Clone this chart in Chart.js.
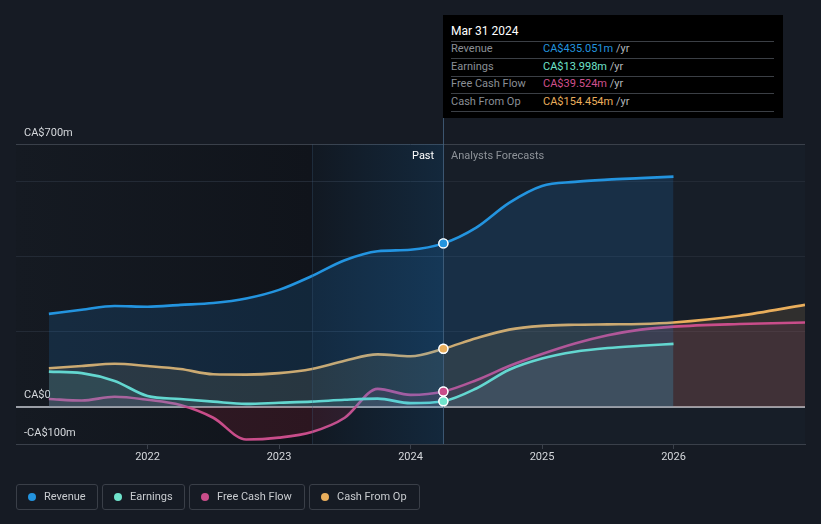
<!DOCTYPE html>
<html>
<head>
<meta charset="utf-8">
<script src="https://cdn.jsdelivr.net/npm/chart.js@4/dist/chart.umd.min.js"></script>
<style>
html,body{margin:0;padding:0;background:#161b24;width:821px;height:524px;overflow:hidden;font-family:Roboto,"Noto Sans",sans-serif;}
#wrap{position:relative;width:821px;height:524px;}
#c{position:absolute;left:0;top:0;}
.abs{position:absolute;white-space:nowrap;}
#tip{position:absolute;left:443px;top:15px;width:340px;height:103px;background:#000;}
.tl{position:absolute;left:8px;width:323px;height:0;border-top:1px solid #3b3f45;}
.tr{position:absolute;left:8px;font-size:11px;line-height:14px;color:#8a8f96;}
.tv{position:absolute;left:100px;font-size:11px;line-height:14px;color:#b3b7bc;}
.lg{position:absolute;top:484px;height:26px;border:1px solid #3a3f48;border-radius:3px;box-sizing:border-box;font-size:11px;color:#c9ccd0;line-height:24px;}
.lg i{position:absolute;left:11px;top:8px;width:8px;height:8px;border-radius:50%;}
.lg span{position:absolute;left:27px;top:0;}
</style>
</head>
<body>
<div id="wrap">
<canvas id="c" width="821" height="524"></canvas>
<div class="abs" style="left:412px;top:149px;font-size:11px;line-height:14px;color:#ffffff;">Past</div>
<div class="abs" style="left:451px;top:149px;font-size:11px;line-height:14px;color:#8e9399;">Analysts Forecasts</div>
<div id="tip">
  <div class="abs" style="left:8px;top:9px;font-size:12px;line-height:14px;color:#ffffff;">Mar 31 2024</div>
  <div class="tl" style="top:26px"></div>
  <div class="tr" style="top:27px">Revenue</div><div class="tv" style="top:27px"><span style="color:#2394df">CA$435.051m</span> /yr</div>
  <div class="tl" style="top:43px"></div>
  <div class="tr" style="top:45px">Earnings</div><div class="tv" style="top:45px"><span style="color:#6fe3cb">CA$13.998m</span> /yr</div>
  <div class="tl" style="top:61px"></div>
  <div class="tr" style="top:62px">Free Cash Flow</div><div class="tv" style="top:62px"><span style="color:#d0508e">CA$39.524m</span> /yr</div>
  <div class="tl" style="top:78px"></div>
  <div class="tr" style="top:80px">Cash From Op</div><div class="tv" style="top:80px"><span style="color:#e9ae5c">CA$154.454m</span> /yr</div>
  <div class="tl" style="top:96px"></div>
</div>
<div class="lg" style="left:16px;width:82px;"><i style="background:#2394df"></i><span>Revenue</span></div>
<div class="lg" style="left:102px;width:83px;"><i style="background:#6fe3cb"></i><span>Earnings</span></div>
<div class="lg" style="left:189px;width:116px;"><i style="background:#c94d8a"></i><span>Free Cash Flow</span></div>
<div class="lg" style="left:309px;width:111px;"><i style="background:#e9ae5c"></i><span>Cash From Op</span></div>
</div>
<script>
// ---- data (values in CA$ millions, x in decimal years) ----
const periods = [2021.25, 2021.5, 2021.75, 2022, 2022.25, 2022.5, 2022.75, 2023, 2023.25, 2023.5, 2023.75, 2024, 2024.25, 2024.5, 2024.75, 2025, 2025.25, 2025.5, 2025.75, 2026];
const periodsExt = [2021.25, 2021.5, 2021.75, 2022, 2022.25, 2022.5, 2022.75, 2023, 2023.25, 2023.5, 2023.75, 2024, 2024.25, 2024.5, 2024.75, 2025, 2025.25, 2025.5, 2025.75, 2026, 2026.5, 2027];
const revenue = [247, 258, 268, 266, 271, 276, 288, 311, 348, 390, 414, 418, 435, 477, 543, 588, 599, 605, 609, 613];
const earnings = [93, 89, 68, 28, 20, 13, 7, 10, 13, 18, 21, 9, 14, 48, 98, 128, 146, 156, 162, 167];
const freeCashFlow = [20, 16, 26, 18, 4, -30, -88, -83, -68, -30, 47, 31, 40, 70, 108, 140, 168, 190, 205, 213, 220, 224];
const cashFromOp = [102, 108, 114, 108, 100, 86, 85, 89, 100, 122, 139, 134, 154, 182, 205, 215, 218, 219, 220, 224, 242, 271];
const xTicks = [2022, 2023, 2024, 2025, 2026];
const yTicks = [-100, 0, 200, 400, 600, 700];
const yTickLabels = {"-100": "-CA$100m", "0": "CA$0", "700": "CA$700m"};
const nowX = 2024.25;
const bandStartX = 2023.25;

const toPts = (xs, ys) => ys.map((y, i) => ({x: xs[i], y}));

function ds(label, xs, ys, color, above, below) {
  return {
    label, data: toPts(xs, ys),
    borderColor: color, borderWidth: 2.6,
    fill: {target: 'origin', above, below},
    cubicInterpolationMode: 'monotone',
    pointRadius: c => (c.raw && c.raw.x === nowX) ? 4.5 : 0,
    pointHoverRadius: 0,
    pointBackgroundColor: color, pointBorderColor: '#ffffff', pointBorderWidth: 1.3
  };
}

const bgPlugin = {
  id: 'bg',
  beforeDraw(chart) {
    const {ctx, chartArea: a, scales: {x}} = chart;
    const xb = x.getPixelForValue(bandStartX), xn = x.getPixelForValue(nowX);
    ctx.save();
    let g = ctx.createLinearGradient(a.left, 0, xb, 0);
    g.addColorStop(0, '#151a22'); g.addColorStop(1, '#10141b');
    ctx.fillStyle = g; ctx.fillRect(a.left, a.top, xb - a.left, a.bottom - a.top);
    ctx.fillStyle = '#11161e'; ctx.fillRect(xb, a.top, xn - xb, a.bottom - a.top);
    ctx.fillStyle = '#171e28'; ctx.fillRect(xn, a.top, a.right - xn, a.bottom - a.top);
    ctx.restore();
  },
  afterDatasetsDraw(chart) {
    const {ctx, chartArea: a, scales: {x}} = chart;
    const xb = x.getPixelForValue(bandStartX), xn = x.getPixelForValue(nowX);
    ctx.save();
    let g = ctx.createLinearGradient(xb, 0, xn, 0);
    g.addColorStop(0, 'rgba(33,150,243,0.02)'); g.addColorStop(1, 'rgba(33,150,243,0.14)');
    ctx.fillStyle = g; ctx.fillRect(xb, a.top, xn - xb, a.bottom - a.top);
    ctx.strokeStyle = 'rgba(60,90,120,0.3)'; ctx.lineWidth = 1;
    ctx.beginPath(); ctx.moveTo(Math.round(xb) + 0.5, a.top); ctx.lineTo(Math.round(xb) + 0.5, a.bottom); ctx.stroke();
    ctx.strokeStyle = 'rgba(70,100,130,0.8)';
    ctx.beginPath(); ctx.moveTo(Math.round(xn) + 0.5, 15); ctx.lineTo(Math.round(xn) + 0.5, a.bottom); ctx.stroke();
    // redraw the "now" markers on top
    chart.data.datasets.forEach((d, di) => {
      const meta = chart.getDatasetMeta(di);
      meta.data.forEach((el, i) => { if (d.data[i].x === nowX) el.draw(ctx, a); });
    });
    ctx.restore();
  }
};

new Chart(document.getElementById('c'), {
  type: 'line',
  data: {
    datasets: [
      ds('Revenue', periods, revenue, '#2394df', 'rgba(33,150,243,0.15)', 'rgba(33,150,243,0.15)'),
      ds('Earnings', periods, earnings, '#6fe3cb', 'rgba(111,227,203,0.10)', 'rgba(111,227,203,0.10)'),
      ds('Free Cash Flow', periodsExt, freeCashFlow, '#c94d8a', 'rgba(201,77,138,0.11)', 'rgba(190,40,60,0.16)'),
      ds('Cash From Op', periodsExt, cashFromOp, '#e9ae5c', 'rgba(233,174,92,0.12)', 'rgba(233,174,92,0.12)')
    ]
  },
  options: {
    responsive: false, animation: false, events: [],
    layout: {padding: {left: 16, right: 16, top: 144, bottom: 50}},
    plugins: {legend: {display: false}, tooltip: {enabled: false}},
    scales: {
      x: {
        type: 'linear', min: 2021, max: 2027,
        afterBuildTicks: s => { s.ticks = xTicks.map(v => ({value: v})); },
        afterFit: s => { s.height = 30; },
        ticks: {color: '#d5d8dc', font: {family: 'Roboto', size: 11}, padding: 2, maxRotation: 0, autoSkip: false, callback: v => String(v)},
        grid: {drawOnChartArea: false, drawTicks: true, tickLength: 5, color: '#3a404a'},
        border: {display: true, color: '#3a404a', width: 1}
      },
      y: {
        type: 'linear', min: -100, max: 700,
        afterBuildTicks: s => { s.ticks = yTicks.map(v => ({value: v})); },
        afterFit: s => { s.width = 0; },
        ticks: {mirror: true, padding: 8, labelOffset: -11, color: '#d5d8dc', font: {family: 'Roboto', size: 11},
                callback: v => yTickLabels[String(v)] || ''},
        grid: {drawTicks: false,
               color: c => c.tick.value === 0 ? '#9a9ea6' : ((c.tick.value === -100 || c.tick.value === 700) ? '#3a404a' : '#232a35'),
               lineWidth: c => c.tick.value === 0 ? 2 : 1},
        border: {display: false}
      }
    }
  },
  plugins: [bgPlugin]
});
</script>
</body>
</html>
